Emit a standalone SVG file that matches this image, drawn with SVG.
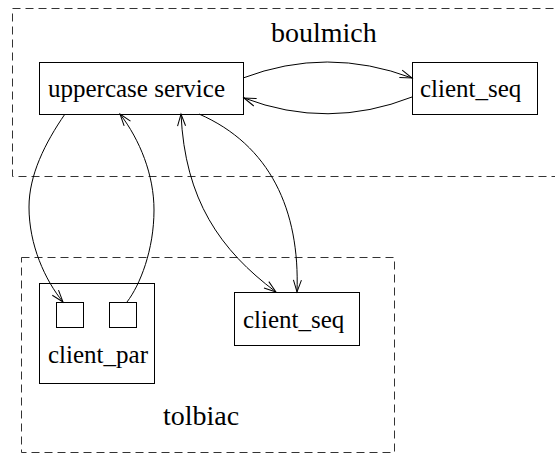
<svg xmlns="http://www.w3.org/2000/svg" width="555" height="458" viewBox="0 0 555 458">
  <style>
    .cluster { fill: none; stroke: #333; stroke-width: 1; stroke-dasharray: 8 5; }
    .box { fill: #fff; stroke: #000; stroke-width: 1; }
    .edge { fill: none; stroke: #000; stroke-width: 1; }
    .lbl { font-family: "Liberation Serif", "Times New Roman", serif; font-size: 25px; fill: #000; }
    .clbl { font-family: "Liberation Serif", "Times New Roman", serif; font-size: 28px; fill: #000; }
  </style>
  <defs>
    <marker id="arrow" markerUnits="userSpaceOnUse" markerWidth="16" markerHeight="12" refX="12" refY="4" orient="auto-start-reverse" overflow="visible">
      <path d="M0,0 L12,4 L0,8" fill="none" stroke="#000" stroke-width="1"/>
    </marker>
  </defs>

  <rect width="555" height="458" fill="#fff"/>

  <!-- host clusters -->
  <g id="boulmich">
    <rect class="cluster" x="12.5" y="8.5" width="560" height="168"/>
    <text class="clbl" x="271" y="42">boulmich</text>
  </g>
  <g id="tolbiac">
    <rect class="cluster" x="21.5" y="257.5" width="373" height="195"/>
    <text class="clbl" x="163" y="425">tolbiac</text>
  </g>

  <!-- processes -->
  <g id="uppercase_service">
    <rect class="box" x="39.5" y="62.5" width="204" height="52"/>
    <text class="lbl" x="48" y="97">uppercase service</text>
  </g>
  <g id="client_seq_boulmich">
    <rect class="box" x="412.5" y="62.5" width="125" height="52"/>
    <text class="lbl" x="420" y="97">client_seq</text>
  </g>
  <g id="client_seq_tolbiac">
    <rect class="box" x="234.5" y="292.5" width="125" height="53"/>
    <text class="lbl" x="243" y="328">client_seq</text>
  </g>
  <g id="client_par">
    <rect class="box" x="39.5" y="283.5" width="115" height="100"/>
    <rect class="box" x="56.5" y="302.5" width="27" height="25"/>
    <rect class="box" x="109.5" y="302.5" width="27" height="25"/>
    <text class="lbl" x="48" y="363">client_par</text>
  </g>

  <!-- message flows -->
  <g id="connectors">
    <path class="edge" d="M243,78 Q327,46 412,78" marker-end="url(#arrow)"/>
    <path class="edge" d="M412,97 Q328,130 244,98" marker-end="url(#arrow)"/>
    <path class="edge" d="M65,114 C45,143 29,175 29,207 C29,245 45,280 63,302" marker-end="url(#arrow)"/>
    <path class="edge" d="M127,302 C140,285 154,250 154,210 C154,175 140,140 120,114" marker-end="url(#arrow)"/>
    <path class="edge" d="M181,114 C185,200 220,250 276,292" marker-start="url(#arrow)" marker-end="url(#arrow)"/>
    <path class="edge" d="M199,114 C270,145 300,210 297,292" marker-end="url(#arrow)"/>
  </g>
</svg>
